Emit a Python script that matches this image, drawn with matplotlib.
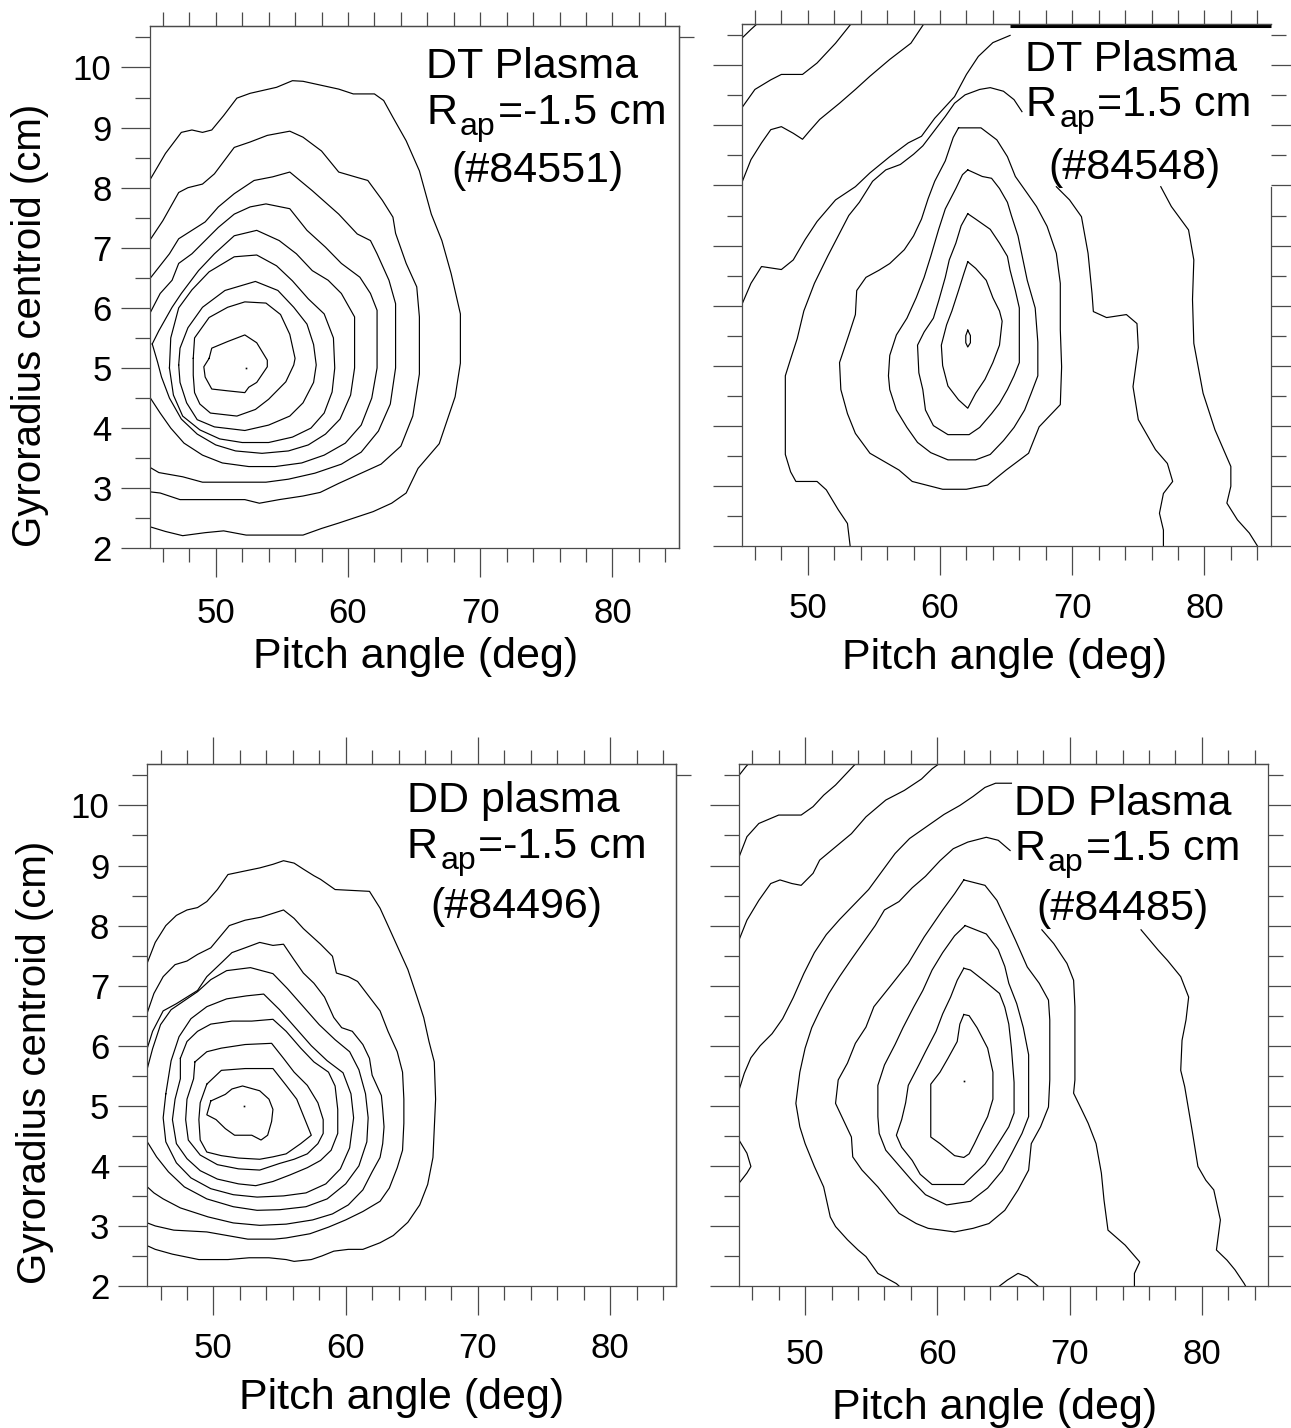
import matplotlib
matplotlib.use('Agg')
import matplotlib.pyplot as plt
from matplotlib.ticker import MultipleLocator

plt.rcParams['font.family'] = ['Liberation Sans', 'DejaVu Sans']

# contour lines, (pitch angle [deg], gyroradius centroid [cm]) along each line

# DT plasma, R_ap = -1.5 cm (#84551)
dt_neg_lines = [
    [(45.0, 8.12), (46.2, 8.57), (47.4, 8.92), (48.2, 8.96), (49.0, 8.92), (49.7, 8.96), (50.6, 9.2), (51.6, 9.49),
     (52.6, 9.57), (54.6, 9.67), (55.8, 9.78), (56.6, 9.77), (59.3, 9.64), (60.4, 9.56), (62.0, 9.56), (62.7, 9.45),
     (63.4, 9.17), (64.4, 8.78), (65.4, 8.28), (66.3, 7.56), (67.1, 7.12), (67.8, 6.57), (68.5, 5.90), (68.5, 5.08),
     (68.1, 4.52), (66.9, 3.74), (65.3, 3.33), (64.4, 2.92), (63.3, 2.75), (61.9, 2.61), (59.3, 2.42), (58.0, 2.33),
     (56.6, 2.22), (52.3, 2.22), (50.6, 2.29), (49.2, 2.26), (47.5, 2.21), (46.2, 2.28), (45.0, 2.36)],
    [(45.0, 7.12), (46.0, 7.45), (47.2, 7.92), (47.9, 8.0), (49.0, 8.06), (49.9, 8.23), (51.4, 8.67), (52.6, 8.76),
     (53.9, 8.87), (55.6, 8.94), (56.6, 8.84), (58.0, 8.61), (59.3, 8.26), (60.7, 8.17), (61.5, 8.12), (62.6, 7.79),
     (63.4, 7.51), (63.6, 7.24), (64.4, 6.74), (65.2, 6.35), (65.4, 5.85), (65.4, 4.9), (64.9, 4.2), (64.0, 3.7),
     (62.5, 3.4), (61.0, 3.25), (59.3, 3.08), (57.9, 2.93), (56.6, 2.87), (54.8, 2.81), (53.3, 2.75), (52.2, 2.81),
     (49.0, 2.81), (47.3, 2.81), (45.8, 2.92), (45.0, 2.94)],
    [(45.0, 6.48), (46.5, 6.90), (47.2, 7.15), (48.2, 7.29), (49.2, 7.43), (50.2, 7.68), (51.4, 7.90), (52.9, 8.12),
     (54.3, 8.18), (55.6, 8.26), (57.3, 7.95), (59.3, 7.56), (60.7, 7.23), (61.7, 7.12), (62.2, 6.90), (63.1, 6.46),
     (63.6, 6.07), (63.6, 5.0), (63.2, 4.4), (62.3, 3.95), (61.0, 3.6), (59.5, 3.4), (57.5, 3.25), (55.5, 3.15),
     (53.8, 3.10), (49.0, 3.10), (47.5, 3.19), (45.7, 3.26), (45.0, 3.35)],
    [(45.0, 5.90), (45.8, 6.24), (46.7, 6.46), (47.2, 6.74), (48.2, 6.90), (49.2, 7.12), (50.2, 7.34), (51.4, 7.56),
     (52.6, 7.68), (53.8, 7.73), (55.6, 7.65), (56.9, 7.29), (58.3, 7.01), (59.5, 6.74), (60.9, 6.51), (61.7, 6.24),
     (62.2, 5.96), (62.2, 5.0), (61.8, 4.5), (61.0, 4.05), (59.8, 3.75), (58.2, 3.55), (56.5, 3.42), (54.5, 3.36),
     (52.5, 3.36), (50.5, 3.42), (49.0, 3.55), (47.6, 3.75), (46.6, 4.0), (45.8, 4.25), (45.0, 4.52)],
    [(45.2, 5.40), (45.7, 5.62), (46.7, 6.01), (47.4, 6.24), (48.7, 6.62), (49.9, 6.90), (51.4, 7.20), (53.1, 7.29),
     (54.8, 7.12), (56.1, 6.90), (57.3, 6.62), (58.5, 6.46), (59.5, 6.24), (60.5, 5.85), (60.5, 5.0), (60.2, 4.55),
     (59.4, 4.15), (58.3, 3.9), (57.0, 3.72), (55.5, 3.62), (53.5, 3.58), (51.5, 3.62), (50.0, 3.72), (48.6, 3.9),
     (47.4, 4.15), (46.5, 4.5), (45.9, 4.85), (45.6, 5.1), (45.2, 5.40)],
    [(46.5, 5.0), (46.6, 5.5), (47.2, 6.0), (48.2, 6.3), (49.5, 6.6), (51.4, 6.85), (53.1, 6.88), (54.6, 6.7),
     (55.8, 6.45), (57.0, 6.15), (58.2, 5.9), (58.9, 5.5), (59.0, 5.0), (58.8, 4.6), (58.2, 4.25), (57.2, 4.0),
     (55.8, 3.85), (54.0, 3.76), (52.0, 3.76), (50.3, 3.82), (48.8, 3.97), (47.5, 4.2), (46.8, 4.55), (46.5, 5.0)],
    [(47.2, 5.05), (47.3, 5.33), (47.9, 5.67), (49.0, 6.01), (50.7, 6.29), (53.0, 6.44), (54.7, 6.29), (55.9, 6.01),
     (56.9, 5.73), (57.4, 5.39), (57.6, 5.05), (57.4, 4.76), (56.6, 4.42), (55.6, 4.20), (54.0, 4.05), (52.2, 3.96),
     (49.9, 4.02), (48.6, 4.14), (47.8, 4.42), (47.3, 4.76), (47.2, 5.05)],
    [(48.3, 5.16), (48.4, 5.50), (49.5, 5.84), (50.9, 6.01), (52.2, 6.10), (53.8, 6.08), (54.9, 5.89), (55.6, 5.56),
     (56.0, 5.16), (55.9, 5.05), (55.3, 4.77), (54.0, 4.48), (53.0, 4.31), (51.6, 4.20), (49.6, 4.25), (48.8, 4.40),
     (48.4, 4.59), (48.3, 4.88), (48.3, 5.16)],
    [(49.5, 5.16), (49.7, 5.33), (50.9, 5.44), (52.2, 5.55), (53.1, 5.42), (53.9, 5.13), (53.9, 5.02), (53.1, 4.76),
     (52.5, 4.68), (52.2, 4.59), (50.9, 4.62), (49.7, 4.65), (49.2, 4.85), (49.1, 5.02), (49.5, 5.16)],
]
dt_neg_peak = [(52.3, 5.0)]

# DT plasma, R_ap = 1.5 cm (#84548)
dt_pos_lines = [
    [(45.0, 10.45), (45.7, 10.6), (46.2, 10.7)],
    [(45.0, 9.29), (46.0, 9.60), (47.2, 9.76), (48.0, 9.85), (49.6, 9.85), (50.7, 10.04), (52.1, 10.37), (53.3, 10.70)],
    [(45.0, 8.04), (45.7, 8.43), (46.5, 8.71), (47.2, 8.93), (48.0, 8.98), (48.9, 8.87), (49.6, 8.77), (50.1, 8.90),
     (50.9, 9.10), (52.4, 9.37), (53.6, 9.60), (54.7, 9.82), (56.2, 10.10), (57.8, 10.37), (58.8, 10.70)],
    [(45.0, 6.01), (45.7, 6.37), (46.5, 6.65), (48.0, 6.60), (48.9, 6.76), (49.8, 7.10), (50.7, 7.40), (52.1, 7.76),
     (53.6, 7.98), (54.7, 8.21), (56.2, 8.48), (57.6, 8.71), (58.6, 8.82), (59.6, 9.12), (61.1, 9.48), (62.0, 9.85),
     (62.9, 10.15), (64.0, 10.38), (65.3, 10.5)],
    [(66.2, 9.23), (65.6, 9.43), (64.8, 9.57), (63.8, 9.63), (63.0, 9.60), (61.9, 9.51), (61.1, 9.37), (60.4, 9.15),
     (59.6, 8.92), (58.7, 8.66), (58.0, 8.52), (57.0, 8.35), (55.9, 8.26), (54.9, 8.07), (53.9, 7.72), (53.1, 7.50),
     (52.3, 7.16), (51.5, 6.82), (50.5, 6.37), (49.7, 5.91), (49.2, 5.45), (48.7, 5.11), (48.3, 4.83), (48.3, 4.26),
     (48.3, 3.52), (48.7, 3.23), (49.1, 3.07), (50.7, 3.07), (51.4, 2.93), (52.3, 2.60), (53.0, 2.37), (53.2, 2.0)],
    [(61.4, 8.96), (63.1, 8.96), (64.3, 8.76), (65.1, 8.48), (65.7, 8.15), (66.6, 7.87), (67.3, 7.65), (68.1, 7.32),
     (68.8, 6.87), (69.1, 6.37), (69.1, 5.60), (69.2, 4.98), (69.1, 4.35), (67.5, 3.98), (66.7, 3.54), (65.0, 3.26),
     (63.6, 3.01), (62.0, 2.94), (60.2, 2.94), (57.9, 3.07), (56.9, 3.26), (54.7, 3.54), (53.6, 3.87), (53.0, 4.2),
     (52.5, 4.6), (52.4, 5.05), (53.1, 5.51), (53.6, 5.85), (53.7, 6.25), (54.4, 6.47), (55.4, 6.59), (56.2, 6.70),
     (57.3, 6.93), (58.0, 7.16), (58.6, 7.44), (59.1, 7.78), (59.6, 8.07), (60.4, 8.41), (61.0, 8.8), (61.4, 8.96)],
    [(62.1, 8.26), (63.2, 8.15), (63.9, 8.12), (64.5, 7.95), (65.1, 7.72), (65.4, 7.50), (65.9, 7.16), (66.6, 6.42),
     (67.2, 5.96), (67.4, 5.39), (67.4, 4.83), (66.9, 4.54), (66.4, 4.26), (65.6, 3.97), (64.8, 3.75), (63.8, 3.52),
     (62.7, 3.43), (60.6, 3.43), (59.3, 3.55), (58.3, 3.72), (57.5, 3.97), (56.7, 4.26), (56.2, 4.60), (56.1, 4.83),
     (56.2, 5.17), (56.7, 5.51), (57.5, 5.79), (58.2, 6.13), (58.8, 6.47), (59.3, 6.82), (59.9, 7.27), (60.4, 7.61),
     (61.2, 7.95), (61.7, 8.18), (62.1, 8.26)],
    [(62.1, 7.53), (62.7, 7.44), (63.8, 7.27), (64.5, 7.04), (65.1, 6.82), (65.3, 6.59), (65.7, 6.25), (66.0, 5.96),
     (66.0, 5.05), (65.6, 4.83), (65.1, 4.60), (64.5, 4.37), (63.9, 4.20), (63.0, 3.97), (62.2, 3.85), (60.6, 3.85),
     (59.5, 4.00), (58.9, 4.26), (58.7, 4.60), (58.4, 4.88), (58.3, 5.34), (58.8, 5.56), (59.5, 5.79), (59.9, 6.08),
     (60.4, 6.47), (60.7, 6.76), (61.2, 7.04), (61.6, 7.33), (62.1, 7.53)],
    [(62.1, 6.73), (62.7, 6.62), (63.5, 6.42), (64.0, 6.13), (64.5, 5.91), (64.7, 5.74), (64.5, 5.34), (64.0, 5.05),
     (63.4, 4.77), (62.7, 4.54), (62.1, 4.29), (61.4, 4.43), (60.6, 4.66), (60.2, 5.00), (60.1, 5.34), (60.5, 5.68),
     (60.9, 5.91), (61.4, 6.25), (61.8, 6.53), (62.1, 6.73)],
    [(62.1, 5.59), (62.3, 5.5), (62.3, 5.38), (62.1, 5.31), (61.95, 5.38), (61.95, 5.5), (62.1, 5.59)],
    [(68.8, 7.98), (69.8, 7.76), (70.7, 7.48), (71.2, 6.87), (71.5, 6.2), (71.6, 5.9), (72.6, 5.8), (74.1, 5.85),
     (74.9, 5.7), (75.0, 5.3), (74.6, 4.65), (75.0, 4.10), (76.3, 3.60), (77.2, 3.37), (77.6, 3.07), (76.9, 2.87),
     (76.6, 2.54), (76.9, 2.26), (76.9, 2.0)],
    [(76.7, 7.98), (77.5, 7.65), (78.8, 7.26), (79.2, 6.76), (79.1, 6.10), (79.2, 5.37), (79.9, 4.54), (80.8, 3.93),
     (82.0, 3.32), (82.0, 2.99), (81.7, 2.71), (82.5, 2.43), (83.4, 2.21), (84.0, 2.0)],
]
dt_pos_peak = []

# DD plasma, R_ap = -1.5 cm (#84496)
dd_neg_lines = [
    [(45.0, 7.38), (45.6, 7.72), (46.4, 8.00), (47.2, 8.17), (48.0, 8.26), (48.8, 8.30), (49.5, 8.40), (50.3, 8.60),
     (51.1, 8.85), (52.4, 8.91), (53.5, 8.96), (54.5, 9.02), (55.3, 9.08), (56.1, 9.04), (56.8, 8.94), (57.6, 8.83),
     (58.1, 8.77), (59.2, 8.60), (61.8, 8.57), (62.6, 8.29), (63.2, 8.00), (64.0, 7.61), (64.7, 7.27), (65.4, 6.81),
     (65.9, 6.47), (66.3, 6.07), (66.7, 5.73), (66.8, 5.11), (66.6, 4.14), (66.2, 3.69), (65.6, 3.35), (64.7, 3.06),
     (63.6, 2.84), (62.6, 2.72), (61.3, 2.61), (60.2, 2.61), (59.1, 2.58), (58.2, 2.50), (57.4, 2.44), (56.1, 2.41),
     (55.5, 2.44), (54.2, 2.47), (52.7, 2.47), (51.1, 2.44), (48.9, 2.44), (46.9, 2.53), (45.6, 2.61), (45.0, 2.67)],
    [(45.0, 6.55), (45.5, 6.87), (46.2, 7.15), (47.1, 7.35), (48.0, 7.41), (48.8, 7.52), (49.8, 7.63), (51.2, 8.00),
     (52.4, 8.09), (53.6, 8.14), (55.3, 8.26), (56.1, 8.12), (56.8, 7.95), (58.1, 7.69), (59.0, 7.49), (59.3, 7.21),
     (60.2, 7.15), (60.9, 7.07), (61.8, 6.81), (62.6, 6.58), (63.2, 6.24), (63.9, 5.90), (64.3, 5.56), (64.4, 5.11),
     (64.4, 4.71), (64.3, 4.26), (63.9, 3.97), (63.3, 3.63), (62.6, 3.41), (61.3, 3.24), (60.0, 3.10), (58.7, 2.98),
     (57.3, 2.87), (55.5, 2.80), (54.6, 2.78), (52.6, 2.78), (49.5, 2.90), (47.0, 2.93), (45.6, 3.0), (45.0, 3.05)],
    [(45.0, 5.96), (45.4, 6.24), (46.2, 6.58), (47.2, 6.70), (48.0, 6.81), (48.8, 6.92), (49.5, 7.15), (50.6, 7.38),
     (51.4, 7.55), (52.4, 7.63), (53.5, 7.72), (54.5, 7.67), (55.3, 7.69), (56.1, 7.43), (56.8, 7.21), (57.6, 7.04),
     (58.4, 6.81), (59.1, 6.47), (59.7, 6.30), (60.5, 6.24), (61.3, 6.02), (61.8, 5.79), (62.0, 5.51), (62.7, 5.17),
     (62.8, 4.94), (62.9, 4.65), (62.8, 4.37), (62.6, 4.14), (62.0, 3.9), (61.3, 3.6), (60.2, 3.35), (59.0, 3.2),
     (57.5, 3.1), (55.5, 3.03), (53.5, 3.01), (51.5, 3.05), (49.6, 3.15), (47.5, 3.3), (46.2, 3.45), (45.5, 3.55),
     (45.0, 3.65)],
    [(45.0, 5.62), (45.4, 5.95), (46.0, 6.35), (46.8, 6.6), (47.8, 6.75), (48.8, 6.9), (49.8, 7.1), (51.0, 7.25),
     (52.8, 7.30), (54.5, 7.2), (55.6, 6.95), (56.8, 6.65), (58.0, 6.35), (59.2, 6.1), (60.3, 5.9), (61.0, 5.6),
     (61.5, 5.2), (61.7, 4.8), (61.6, 4.4), (61.0, 4.0), (60.0, 3.7), (58.6, 3.45), (57.0, 3.32), (55.0, 3.27),
     (53.3, 3.26), (51.5, 3.32), (49.5, 3.45), (47.8, 3.65), (46.6, 3.9), (45.7, 4.15), (45.0, 4.40)],
    [(46.4, 5.2), (46.8, 5.75), (47.4, 6.15), (48.3, 6.45), (49.5, 6.65), (51.0, 6.78), (52.5, 6.83), (53.8, 6.86),
     (55.0, 6.6), (56.2, 6.3), (57.4, 6.0), (58.6, 5.75), (59.8, 5.55), (60.4, 5.2), (60.6, 4.8), (60.3, 4.3),
     (59.6, 3.95), (58.5, 3.7), (57.0, 3.55), (55.3, 3.5), (53.3, 3.48), (51.5, 3.52), (49.8, 3.62), (48.3, 3.8),
     (47.2, 4.05), (46.4, 4.4), (46.2, 4.8), (46.4, 5.2)],
    [(47.5, 5.79), (48.0, 6.07), (48.8, 6.24), (49.8, 6.36), (51.4, 6.41), (52.9, 6.41), (54.5, 6.44), (55.5, 6.24),
     (56.6, 5.96), (57.6, 5.73), (58.7, 5.56), (59.2, 5.33), (59.4, 4.94), (59.4, 4.54), (58.9, 4.26), (58.1, 4.09),
     (57.1, 3.97), (55.8, 3.85), (54.5, 3.74), (53.2, 3.67), (51.9, 3.70), (50.3, 3.78), (49.0, 3.92), (48.0, 4.12),
     (47.2, 4.37), (46.9, 4.77), (47.1, 5.11), (47.5, 5.45), (47.5, 5.79)],
    [(48.6, 5.73), (49.5, 5.90), (50.6, 5.96), (52.4, 6.02), (54.4, 6.04), (55.3, 5.79), (56.1, 5.56), (57.1, 5.34),
     (57.9, 5.05), (58.3, 4.77), (58.3, 4.54), (57.9, 4.37), (57.1, 4.20), (56.1, 4.11), (55.0, 4.04), (53.5, 3.93),
     (51.9, 3.95), (50.3, 4.02), (49.0, 4.18), (48.1, 4.43), (47.9, 4.77), (48.0, 5.11), (48.5, 5.45), (48.6, 5.73)],
    [(49.5, 5.36), (50.6, 5.59), (52.4, 5.62), (54.5, 5.62), (55.5, 5.34), (56.3, 5.11), (57.4, 4.51), (56.6, 4.37),
     (55.5, 4.20), (54.5, 4.15), (53.5, 4.11), (51.9, 4.13), (50.6, 4.17), (49.5, 4.23), (49.0, 4.43), (48.9, 4.77),
     (49.0, 5.05), (49.5, 5.36)],
    [(49.8, 5.08), (50.9, 5.19), (51.4, 5.28), (52.2, 5.33), (53.5, 5.25), (54.2, 5.11), (54.5, 4.94), (54.4, 4.74),
     (54.1, 4.51), (53.6, 4.43), (52.9, 4.51), (51.6, 4.51), (50.9, 4.62), (50.2, 4.77), (49.5, 4.85), (49.8, 5.08)],
]
dd_neg_peak = [(52.3, 4.99)]

# DD plasma, R_ap = 1.5 cm (#84485)
dd_pos_lines = [
    [(45.0, 10.5), (45.5, 10.64), (45.7, 10.69)],
    [(45.0, 9.14), (45.6, 9.48), (46.5, 9.70), (48.0, 9.84), (49.7, 9.84), (50.6, 9.98), (51.4, 10.17), (52.3, 10.34),
     (53.8, 10.69)],
    [(45.0, 7.76), (45.6, 8.09), (46.5, 8.42), (47.4, 8.70), (48.1, 8.76), (49.0, 8.70), (49.7, 8.67), (50.6, 8.87),
     (51.1, 9.09), (52.3, 9.31), (53.5, 9.53), (54.6, 9.81), (56.1, 10.09), (57.5, 10.25), (58.8, 10.44),
     (59.6, 10.61), (60.1, 10.69)],
    [(45.0, 5.26), (45.4, 5.54), (45.9, 5.8), (46.6, 6.0), (47.5, 6.2), (48.3, 6.45), (49.1, 6.8), (49.9, 7.2),
     (50.7, 7.55), (51.6, 7.85), (52.6, 8.1), (53.7, 8.35), (54.8, 8.6), (55.8, 8.9), (56.8, 9.2), (57.9, 9.45),
     (59.2, 9.65), (60.5, 9.85), (61.7, 10.0), (62.7, 10.15), (63.6, 10.3), (64.4, 10.37), (65.6, 10.37)],
    [(65.5, 9.25), (64.6, 9.42), (63.7, 9.47), (62.3, 9.39), (61.2, 9.28), (60.2, 9.08), (59.1, 8.82), (58.1, 8.63),
     (57.1, 8.40), (56.0, 8.26), (55.3, 8.0), (54.4, 7.72), (53.5, 7.44), (52.6, 7.15), (51.8, 6.87), (51.1, 6.58),
     (50.5, 6.30), (50.0, 5.96), (49.6, 5.56), (49.4, 5.22), (49.3, 5.04), (49.6, 4.65), (50.0, 4.37), (50.7, 3.99),
     (51.4, 3.65), (51.9, 3.15), (52.3, 2.99), (53.2, 2.77), (54.0, 2.60), (54.6, 2.49), (55.5, 2.21), (56.9, 2.04),
     (57.1, 2.0)],
    [(62.0, 8.76), (63.6, 8.67), (64.5, 8.42), (65.1, 8.14), (65.9, 7.76), (66.8, 7.31), (67.7, 7.04), (68.4, 6.76),
     (68.5, 6.43), (68.5, 5.43), (68.4, 4.98), (67.8, 4.65), (67.1, 4.37), (66.9, 3.93), (66.1, 3.60), (65.1, 3.26),
     (63.9, 3.04), (62.7, 2.96), (61.3, 2.90), (59.3, 2.96), (58.4, 3.04), (57.1, 3.21), (55.5, 3.65), (54.3, 3.93),
     (53.6, 4.15), (53.5, 4.48), (52.9, 4.76), (52.3, 5.04), (52.5, 5.43), (53.2, 5.71), (53.8, 6.04), (54.6, 6.31),
     (55.2, 6.65), (56.4, 6.98), (57.8, 7.37), (59.0, 7.81), (60.4, 8.26), (61.3, 8.53), (62.0, 8.76)],
    [(62.1, 8.00), (63.7, 7.86), (64.6, 7.60), (65.1, 7.32), (65.4, 7.04), (66.0, 6.70), (66.5, 6.30), (66.9, 5.85),
     (66.9, 5.39), (66.9, 4.82), (66.4, 4.54), (65.6, 4.20), (64.9, 3.92), (63.8, 3.63), (62.5, 3.41), (60.7, 3.35),
     (59.1, 3.52), (58.1, 3.75), (57.0, 4.03), (56.1, 4.26), (55.6, 4.54), (55.5, 4.82), (55.5, 5.34), (56.0, 5.68),
     (56.8, 6.02), (57.4, 6.30), (58.2, 6.64), (58.9, 6.92), (59.6, 7.26), (60.4, 7.55), (61.3, 7.83), (62.1, 8.00)],
    [(62.0, 7.29), (62.5, 7.26), (63.6, 7.07), (64.7, 6.87), (65.1, 6.64), (65.4, 6.36), (65.6, 5.96), (65.8, 5.39),
     (65.8, 4.88), (65.4, 4.65), (64.6, 4.37), (63.6, 4.03), (62.8, 3.86), (62.0, 3.69), (59.6, 3.69), (58.7, 3.86),
     (58.1, 4.09), (57.3, 4.31), (56.9, 4.51), (57.3, 4.77), (57.6, 5.05), (57.8, 5.34), (58.6, 5.68), (59.1, 5.90),
     (59.9, 6.24), (60.4, 6.53), (61.0, 6.81), (61.5, 7.09), (61.8, 7.21), (62.0, 7.29)],
    [(62.0, 6.52), (62.4, 6.50), (63.0, 6.30), (63.8, 5.96), (64.2, 5.56), (64.2, 5.11), (63.8, 4.82), (63.3, 4.60),
     (62.8, 4.37), (62.4, 4.20), (62.0, 4.14), (61.3, 4.17), (60.2, 4.37), (59.5, 4.48), (59.5, 4.88), (59.5, 5.36),
     (60.2, 5.56), (60.8, 5.79), (61.5, 6.07), (61.7, 6.36), (62.0, 6.52)],
    [(67.9, 7.93), (68.8, 7.70), (69.8, 7.37), (70.3, 7.09), (70.4, 6.65), (70.4, 5.43), (70.3, 5.21), (70.9, 4.94),
     (71.4, 4.71), (72.0, 4.37), (72.4, 3.88), (72.6, 3.43), (72.9, 2.93), (74.2, 2.68), (75.3, 2.40), (74.9, 2.21),
     (74.9, 2.0)],
    [(75.4, 7.93), (76.7, 7.59), (77.4, 7.42), (78.4, 7.15), (79.0, 6.81), (78.8, 6.43), (78.5, 6.09), (78.4, 5.59),
     (78.7, 5.32), (79.3, 4.54), (79.7, 3.99), (80.3, 3.76), (80.9, 3.60), (81.4, 3.10), (81.1, 2.60), (81.9, 2.43),
     (82.5, 2.27), (83.2, 2.04), (83.3, 2.0)],
    [(64.7, 2.0), (65.3, 2.1), (66.1, 2.21), (66.8, 2.15), (67.6, 2.0)],
    [(45.0, 4.43), (45.6, 4.21), (45.9, 3.99), (45.6, 3.88), (45.0, 3.71)],
]
dd_pos_peak = [(62.0, 5.42)]

# label: first line, subscripted symbol pieces, rest of second line, shot number
panel_titles = [
    ('DT Plasma', 'R', 'ap', '=-1.5 cm', '(#84551)'),
    ('DT Plasma', 'R', 'ap', '=1.5 cm', '(#84548)'),
    ('DD plasma', 'R', 'ap', '=-1.5 cm', '(#84496)'),
    ('DD Plasma', 'R', 'ap', '=1.5 cm', '(#84485)'),
]
x_ticks = [50, 60, 70, 80]
y_ticks = [2, 3, 4, 5, 6, 7, 8, 9, 10]

AX_COL = '#4a4a4a'
PX = 0.72  # points per pixel at 100 dpi

fig = plt.figure(figsize=(12.91, 14.28), dpi=100)
renderer = fig.canvas.get_renderer()

# axes boxes in pixels: left, top, right, bottom
boxes = [(149.6, 26, 678.6, 548.3), (741.7, 24, 1270.5, 545.7),
         (147.3, 764, 676.3, 1286), (739, 764, 1268, 1286)]
W, H = 1291, 1428
axes = []
for l, t, r, b in boxes:
    axes.append(fig.add_axes([l / W, 1 - b / H, (r - l) / W, (b - t) / H]))

panel_lines = [dt_neg_lines, dt_pos_lines, dd_neg_lines, dd_pos_lines]
panel_peaks = [dt_neg_peak, dt_pos_peak, dd_neg_peak, dd_pos_peak]
# text anchor (x, baseline y) for each of the three label lines
title_pos = [
    [(65.9, 9.83), (65.9, 9.06), (67.8, 8.09)],
    [(66.45, 9.90), (66.45, 9.15), (68.2, 8.10)],
    [(64.6, 9.89), (64.6, 9.12), (66.4, 8.12)],
    [(65.8, 9.84), (65.8, 9.09), (67.5, 8.09)],
]
xtick_pad = [20, 17, 17, 23]
xlabel_pos = [(0.5036, -0.170), (0.4966, -0.1775), (0.481, -0.177), (0.4834, -0.196)]


def draw_label(ax, parts, pos):
    head, sym, sub, rest, shot = parts
    kw = dict(fontsize=31, ha='left', va='baseline', zorder=4)
    ax.text(*pos[0], head, **kw)
    t_sym = ax.text(*pos[1], sym, **kw)
    w_sym = t_sym.get_window_extent(renderer).width
    t_sub = ax.annotate(sub, pos[1], xytext=((w_sym + 3) * PX, -11 * PX), textcoords='offset points',
                        fontsize=23, ha='left', va='baseline', zorder=4)
    w_sub = t_sub.get_window_extent(renderer).width
    ax.annotate(rest, pos[1], xytext=((w_sym + w_sub + 5) * PX, 0), textcoords='offset points', **kw)
    ax.text(*pos[2], shot, **kw)


for i, ax in enumerate(axes):
    left_col = i in (0, 2)
    top_row = i in (0, 1)
    for line in panel_lines[i]:
        xs = [p[0] for p in line]
        ys = [p[1] for p in line]
        ax.plot(xs, ys, color='black', lw=0.85, zorder=2)
    for px_, py_ in panel_peaks[i]:
        ax.plot([px_], [py_], marker='s', ms=1.2, color='black', mew=0)

    ax.set_xlim(45, 85)
    ax.set_ylim(2, 10.69)
    ax.set_xticks(x_ticks)
    ax.xaxis.set_minor_locator(MultipleLocator(2))
    ax.set_yticks(y_ticks)
    ax.yaxis.set_minor_locator(MultipleLocator(0.5))
    for sp in ax.spines.values():
        sp.set_color(AX_COL)
        sp.set_linewidth(0.9)

    ax.tick_params(axis='x', which='both', direction='out', color=AX_COL, width=0.9,
                   top=False, labelsize=25, pad=xtick_pad[i] * PX)
    ax.tick_params(axis='x', which='major', length=29 * PX)
    ax.tick_params(axis='x', which='minor', length=14 * PX)
    ax.tick_params(axis='y', which='both', direction='out', color=AX_COL, width=0.9,
                   right=not left_col, labelleft=left_col, labelsize=25, pad=6.5)
    ax.tick_params(axis='y', which='major', length=29 * PX)
    ax.tick_params(axis='y', which='minor', length=15 * PX)

    # ticks along the top edge
    top = ax.secondary_xaxis('top')
    top.set_xticks(x_ticks)
    top.xaxis.set_minor_locator(MultipleLocator(2))
    top.spines['top'].set_color(AX_COL)
    top.spines['top'].set_linewidth(0.9)
    top.tick_params(which='both', direction='out', color=AX_COL, width=0.9, labeltop=False)
    top.tick_params(which='major', length=(14 if top_row else 27) * PX)
    top.tick_params(which='minor', length=14 * PX)

    if left_col:
        side = ax.secondary_yaxis('right')
        side.set_yticks([10.5])
        side.spines['right'].set_color(AX_COL)
        side.spines['right'].set_linewidth(0.9)
        side.tick_params(direction='out', color=AX_COL, width=0.9, length=15 * PX, labelright=False)
        ax.set_ylabel('Gyroradius centroid (cm)', fontsize=29)
        ax.yaxis.set_label_coords(-0.19 if i == 0 else -0.177, 0.4275)

    ax.set_xlabel('Pitch angle (deg)', fontsize=31)
    ax.xaxis.set_label_coords(*xlabel_pos[i])

    draw_label(ax, panel_titles[i], title_pos[i])

# the label box in the DT, R_ap = 1.5 cm panel hides the upper right frame
axes[1].spines['right'].set_bounds(2, 7.98)
axes[1].plot([65.3, 85], [10.655, 10.655], color='black', lw=2.2, solid_capstyle='butt', clip_on=False)

fig.savefig('out.png', dpi=100)
